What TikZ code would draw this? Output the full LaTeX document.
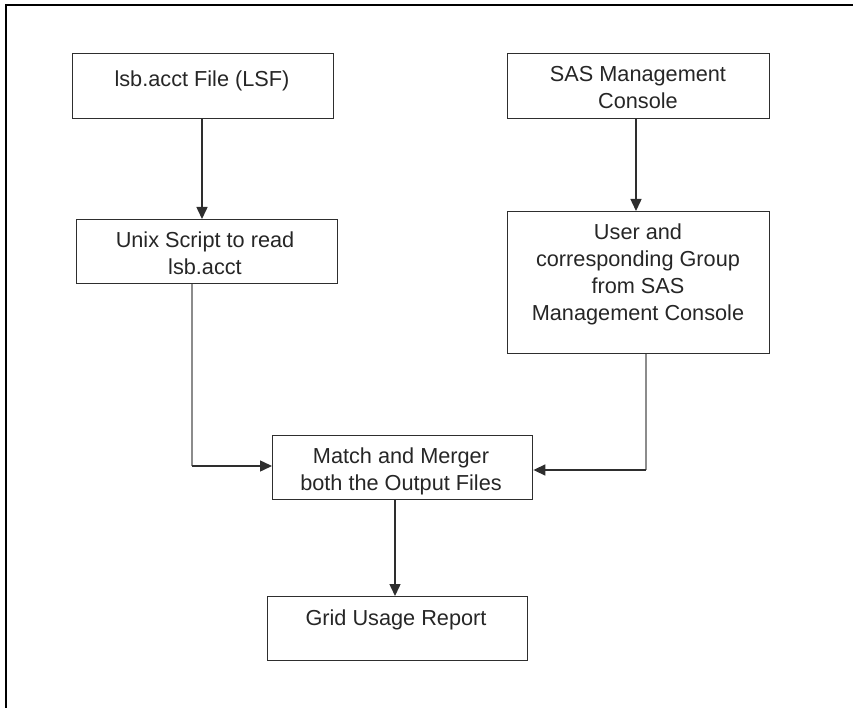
\documentclass[tikz,border=0pt]{standalone}
\usepackage{fontspec}
\setmainfont{Liberation Sans}
\usetikzlibrary{arrows.meta}
\definecolor{boxc}{HTML}{2E2E2E}
\definecolor{grayc}{HTML}{8C8C8C}
\definecolor{txtc}{HTML}{262626}
\begin{document}
\begin{tikzpicture}[x=1pt,y=-1pt,
  box/.style={draw=boxc, line width=1.4pt, inner sep=0pt, anchor=north west},
  txt/.style={text=txtc, inner sep=0pt, anchor=base, font=\fontsize{21.7}{27}\selectfont},
  link/.style={draw=boxc, line width=1.5pt},
  glink/.style={draw=grayc, line width=2pt},
  arr/.style={link, -{Triangle[length=12pt,width=11pt]}},
  frame/.style={draw=black, line width=2.6pt}]
\useasboundingbox (0,0) rectangle (853,708);
% frame
\coordinate (fbl) at (6,712);
\coordinate (ftl) at (6,5);
\coordinate (ftr) at (857,5);
\draw[frame] (fbl) -- (ftl) -- (ftr);
% boxes
\node[box, minimum width=261pt, minimum height=65pt] (b1) at (72,53) {};
\node[box, minimum width=262pt, minimum height=65pt] (sas) at (507,53) {};
\node[box, minimum width=261pt, minimum height=64pt] (unix) at (76,219) {};
\node[box, minimum width=262pt, minimum height=142pt] (user) at (507,211) {};
\node[box, minimum width=260pt, minimum height=64pt] (match) at (272,435) {};
\node[box, minimum width=260pt, minimum height=64pt] (grid) at (267,596) {};
% texts
\node[txt] (t1) at (202,87) {lsb.acct File (LSF)};
\node[txt] (t2) at (638,82) {\begin{tabular}[t]{@{}c@{}}SAS Management\\Console\end{tabular}};
\node[txt] (t3) at (205,248) {\begin{tabular}[t]{@{}c@{}}Unix Script to read\\lsb.acct\end{tabular}};
\node[txt] (t4) at (638,240) {\begin{tabular}[t]{@{}c@{}}User and\\corresponding Group\\from SAS\\Management Console\end{tabular}};
\node[txt] (t5) at (401,463) {\begin{tabular}[t]{@{}c@{}}Match and Merger\\both the Output Files\end{tabular}};
\node[txt] (t6) at (396,625) {Grid Usage Report};
% connectors
\coordinate (a1) at (202,0);
\draw[arr] (b1.south -| a1) -- (unix.north -| a1);
\coordinate (a2) at (636,0);
\draw[arr] (sas.south -| a2) -- (user.north -| a2);
\coordinate (lc) at (192,466);
\draw[glink] (unix.south -| lc) -- (lc);
\draw[arr] (lc) -- (match.west |- lc);
\coordinate (rc) at (646,470);
\draw[glink] (user.south -| rc) -- (rc);
\draw[arr] (rc) -- (match.east |- rc);
\coordinate (a3) at (395,0);
\draw[arr] (match.south -| a3) -- (grid.north -| a3);
\end{tikzpicture}
\end{document}
